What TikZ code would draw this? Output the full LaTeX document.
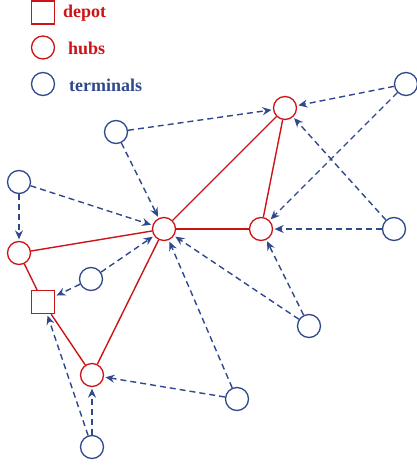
\documentclass[tikz,border=0pt]{standalone}
\usepackage{fontspec}
\setmainfont{Liberation Serif}
\usetikzlibrary{arrows.meta}
\definecolor{hubred}{RGB}{204,20,24}
\definecolor{termblue}{RGB}{48,72,140}
\tikzset{
    hubnode/.style={circle, draw=hubred, line width=1.3pt, minimum size=23pt, inner sep=0pt},
    termnode/.style={circle, draw=termblue, line width=1.3pt, minimum size=23pt, inner sep=0pt},
    depotnode/.style={rectangle, draw=hubred, line width=1.3pt, minimum size=23pt, inner sep=0pt},
    legendtext/.style={anchor=base west, inner sep=0pt, font=\fontsize{18}{20}\selectfont\bfseries},
    link/.style={draw=hubred, line width=1.4pt},
    feed/.style={draw=termblue, line width=1.4pt, dash pattern=on 6pt off 4pt, -{Stealth[length=9pt, width=8pt, inset=3pt]}, shorten >=1.5pt}
}

\begin{document}
\begin{tikzpicture}[x=1pt, y=-1pt]
        \useasboundingbox (0,0) rectangle (417,466);

        % Legend
        \node (legdepot) [depotnode] at (43,12.5) {};
        \node (leghub) [hubnode] at (43,47.5) {};
        \node (legterm) [termnode] at (43,84) {};
        \node (txtdepot) [legendtext, text=hubred] at (63,17.5) {depot};
        \node (txthub) [legendtext, text=hubred] at (68,54) {hubs};
        \node (txtterm) [legendtext, text=termblue] at (69,91) {terminals};

        % Nodes
        \node (depot) [depotnode] at (43,302) {};
        \node (hubc) [hubnode] at (164,229) {};
        \node (hubtr) [hubnode] at (285,108) {};
        \node (hubr) [hubnode] at (261,229) {};
        \node (hubl) [hubnode] at (19,253) {};
        \node (hubb) [hubnode] at (92,375) {};

        \node (termtl) [termnode] at (116,132) {};
        \node (termtr) [termnode] at (406,84) {};
        \node (terml) [termnode] at (19,182) {};
        \node (termm) [termnode] at (91,279) {};
        \node (termr) [termnode] at (394,229) {};
        \node (termbr) [termnode] at (309,326) {};
        \node (termb) [termnode] at (237,399) {};
        \node (termbl) [termnode] at (92,447) {};

        % Links
        \draw[link] (hubl) -- (hubc);
        \draw[link] (hubl) -- (depot);
        \draw[link] (depot) -- (hubb);
        \draw[link] (hubb) -- (hubc);
        \draw[link] (hubc) -- (hubtr);
        \draw[link] (hubc) -- (hubr);
        \draw[link] (hubr) -- (hubtr);

        % Arrows
        \draw[feed] (termtl) -- (hubtr);
        \draw[feed] (termtl) -- (hubc);
        \draw[feed] (termtr) -- (hubtr);
        \draw[feed] (termtr) -- (hubr);
        \draw[feed] (termr) -- (hubtr);
        \draw[feed] (termr) -- (hubr);
        \draw[feed] (terml) -- (hubl);
        \draw[feed] (terml) -- (hubc);
        \draw[feed] (termm) -- (hubc);
        \draw[feed] (termm) -- (depot);
        \draw[feed] (termbr) -- (hubr);
        \draw[feed] (termbr) -- (hubc);
        \draw[feed] (termb) -- (hubc);
        \draw[feed] (termb) -- (hubb);
        \draw[feed] (termbl) -- (hubb);
        \draw[feed] (termbl) -- (depot);

\end{tikzpicture}
\end{document}
